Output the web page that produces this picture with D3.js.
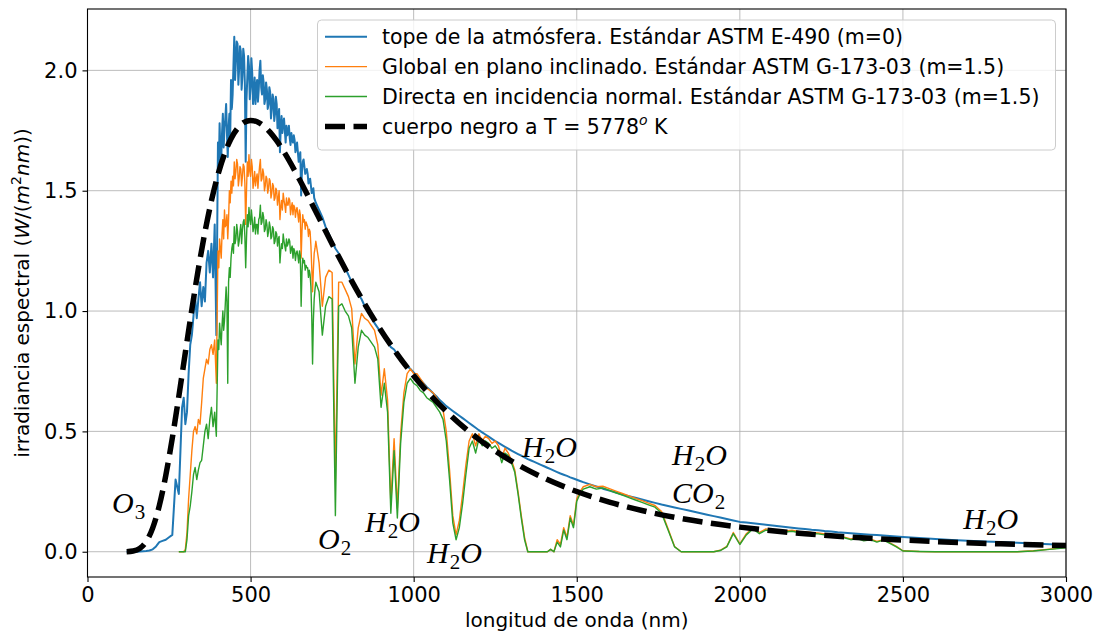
<!DOCTYPE html>
<html>
<head>
<meta charset="utf-8">
<script src="https://cdn.jsdelivr.net/npm/d3@7"></script>
<style>
  html, body { margin: 0; padding: 0; background: #ffffff; }
  svg { display: block; font-family: "DejaVu Sans", sans-serif; }
</style>
</head>
<body>
<svg id="chart" width="1098" height="633"></svg>
<script>
// Wavelength grid (nm) shared by the three measured spectra
const wavelength = [
  120,130,140,150,160,170,180,190,200,210,220,230,240,250,260,270,280,
  285,290,295,300,305,310,315,320,325,330,
  335,340,345,350,355,360,365,370,375,380,
  385,390,395,
  400,402.5,405,407.5,410,412.5,415,417.5,420,422.5,
  425,427.5,430,432.5,435,437.5,440,442.5,445,447.5,
  450,452.5,455,457.5,460,462.5,465,467.5,470,472.5,
  475,477.5,480,482.5,485,487.5,490,492.5,495,497.5,
  500,502.5,505,507.5,510,512.5,515,517.5,520,522.5,
  525,527.5,530,532.5,535,537.5,540,542.5,545,547.5,
  550,552.5,555,557.5,560,562.5,565,567.5,570,572.5,
  575,577.5,580,582.5,585,587.5,590,592.5,595,597.5,
  600,602.5,605,607.5,610,612.5,615,617.5,620,622.5,
  625,627.5,630,632.5,635,637.5,640,642.5,645,647.5,
  650,652.5,655,657.5,660,662.5,665,667.5,670,672.5,
  675,677.5,680,682.5,685,687.5,690,692.5,695,697.5,
  700,
  710,720,730,740,750,760,770,780,790,800,
  810,820,830,840,850,860,870,880,890,900,
  910,920,930,940,950,960,970,980,990,1000,
  1010,1020,1030,1040,1050,1060,1070,1080,1090,1100,
  1110,1120,1130,1140,1150,1160,1170,1180,1190,1200,
  1210,1220,1230,1240,1250,1260,1270,1280,1290,1300,
  1310,1320,1330,1340,1350,1360,1370,1380,1390,1400,
  1410,1420,1430,1440,1450,1460,1470,1480,1490,1500,
  1510,1520,
  1540,1560,1580,1600,1620,1640,1660,1680,1700,1720,
  1740,1760,1780,1800,1820,1840,1860,1880,1900,1920,
  1940,1960,1980,2000,2020,2040,2060,2080,2100,2120,
  2140,2160,2180,2200,2220,2240,2260,2280,2300,2320,
  2340,2360,2380,2400,2420,2440,2460,2480,2500,
  2550,2600,2650,2700,2750,2800,2850,2900,2950,3000
];

// Top of atmosphere, ASTM E-490 (W/(m^2 nm))
const toaE490 = [
  0,0,0,0,0.001,0.002,0.003,0.005,0.010,0.022,0.040,0.045,0.050,0.060,0.070,0.300,0.240,
  0.42,0.60,0.64,0.53,0.58,0.74,0.86,0.90,0.98,1.06,
  0.97,1.05,1.12,1.02,1.10,1.04,1.20,1.25,1.16,1.28,
  1.14,1.36,0.90,
  1.70,1.58,1.78,1.66,1.63,1.74,1.82,1.68,1.76,1.80,
  1.86,1.74,1.64,1.76,1.82,1.72,1.96,1.84,1.90,2.02,
  2.14,1.96,2.04,2.12,2.11,1.94,2.01,2.10,2.08,1.92,
  1.98,2.09,2.06,1.94,1.62,1.88,1.97,2.06,2.02,1.88,
  1.93,2.05,1.99,1.86,1.90,1.97,1.86,1.93,1.96,1.87,
  1.92,2.00,2.04,1.93,1.90,1.98,1.95,1.86,1.88,1.95,
  1.92,1.84,1.86,1.93,1.91,1.80,1.84,1.90,1.88,1.79,
  1.82,1.89,1.86,1.76,1.79,1.84,1.66,1.76,1.81,1.74,
  1.78,1.80,1.75,1.70,1.77,1.73,1.74,1.77,1.72,1.69,
  1.74,1.71,1.70,1.73,1.71,1.66,1.68,1.70,1.66,1.62,
  1.64,1.66,1.48,1.58,1.62,1.63,1.60,1.57,1.58,1.59,
  1.57,1.53,1.54,1.55,1.52,1.49,1.50,1.51,1.47,1.46,
  1.45,
  1.42,1.39,1.35,1.32,1.29,1.26,1.24,1.21,1.18,1.15,
  1.12,1.10,1.07,1.05,1.02,1.00,0.98,0.95,0.93,0.91,
  0.89,0.87,0.85,0.84,0.82,0.80,0.79,0.77,0.76,0.745,
  0.73,0.715,0.70,0.685,0.672,0.658,0.645,0.63,0.618,0.605,
  0.595,0.585,0.575,0.565,0.555,0.545,0.535,0.525,0.515,0.505,
  0.496,0.487,0.478,0.469,0.460,0.452,0.444,0.436,0.428,0.420,
  0.413,0.406,0.399,0.392,0.385,0.379,0.373,0.367,0.361,0.355,
  0.349,0.343,0.337,0.331,0.325,0.320,0.315,0.309,0.304,0.299,
  0.294,0.289,
  0.280,0.271,0.262,0.254,0.246,0.238,0.231,0.224,0.217,0.210,
  0.203,0.196,0.190,0.184,0.178,0.172,0.166,0.160,0.154,0.148,
  0.142,0.136,0.130,0.124,0.121,0.118,0.115,0.112,0.109,0.106,
  0.103,0.100,0.097,0.094,0.091,0.089,0.086,0.084,0.081,0.079,
  0.077,0.075,0.073,0.071,0.069,0.067,0.065,0.063,0.061,
  0.057,0.053,0.049,0.046,0.043,0.040,0.037,0.034,0.031,0.028
];

// Global on tilted plane, ASTM G-173-03 (m=1.5)
const globalTilt = [
  null,null,null,null,null,null,null,null,null,null,null,null,null,null,null,null,0,
  0,0,0,0.01,0.08,0.22,0.32,0.42,0.50,0.52,
  0.49,0.55,0.53,0.62,0.72,0.76,0.80,0.78,0.84,0.86,
  0.82,0.88,0.70,
  1.25,1.18,1.30,1.26,1.22,1.32,1.38,1.30,1.42,1.35,
  1.36,1.40,1.30,1.38,1.50,1.45,1.54,1.49,1.56,1.52,
  1.62,1.55,1.58,1.63,1.61,1.52,1.55,1.60,1.59,1.52,
  1.56,1.61,1.60,1.53,1.36,1.50,1.62,1.56,1.65,1.58,
  1.56,1.63,1.60,1.51,1.54,1.58,1.52,1.55,1.57,1.51,
  1.56,1.60,1.63,1.54,1.55,1.59,1.57,1.50,1.52,1.56,
  1.55,1.49,1.51,1.55,1.54,1.47,1.49,1.53,1.52,1.46,
  1.47,1.51,1.50,1.44,1.47,1.50,1.38,1.43,1.46,1.42,
  1.49,1.46,1.44,1.41,1.47,1.44,1.44,1.47,1.46,1.40,
  1.43,1.45,1.40,1.44,1.43,1.39,1.42,1.43,1.40,1.37,
  1.42,1.40,1.22,1.33,1.40,1.37,1.38,1.34,1.37,1.36,
  1.35,1.31,1.34,1.33,1.27,1.18,1.08,1.17,1.24,1.26,
  1.29,
  1.20,1.02,1.14,1.17,1.16,0.30,1.12,1.12,1.09,1.06,
  1.01,0.78,0.93,0.99,0.97,0.96,0.94,0.92,0.86,0.65,
  0.76,0.63,0.20,0.47,0.18,0.49,0.66,0.74,0.76,0.74,
  0.74,0.72,0.70,0.68,0.67,0.66,0.64,0.62,0.59,0.50,
  0.34,0.15,0.07,0.13,0.24,0.36,0.46,0.49,0.44,0.49,
  0.46,0.48,0.47,0.45,0.46,0.44,0.39,0.43,0.41,0.38,
  0.34,0.25,0.15,0.06,0,0,0,0,0,0,
  0,0.01,0,0.05,0.03,0.10,0.06,0.15,0.11,0.22,
  0.25,0.27,
  0.28,0.27,0.272,0.262,0.252,0.242,0.232,0.222,0.212,0.202,
  0.192,0.167,0.095,0.022,0,0,0,0,0,0,
  0.006,0.022,0.08,0.033,0.075,0.10,0.08,0.095,0.09,0.092,
  0.086,0.089,0.084,0.083,0.08,0.078,0.074,0.072,0.066,0.061,
  0.053,0.058,0.048,0.053,0.043,0.05,0.037,0.022,0.004,
  0.001,0,0,0,0,0,0,0.004,0.011,0.018
];

// Direct normal incidence, ASTM G-173-03 (m=1.5)
const directNormal = [
  null,null,null,null,null,null,null,null,null,null,null,null,null,null,null,null,0,
  0,0,0,0,0.05,0.15,0.19,0.25,0.32,0.35,
  0.30,0.34,0.37,0.38,0.44,0.50,0.53,0.47,0.55,0.60,
  0.52,0.58,0.48,
  0.88,0.84,0.95,0.90,0.86,0.94,1.00,0.92,0.96,1.03,
  1.10,1.04,0.70,1.12,1.18,1.14,1.22,1.26,1.28,1.24,
  1.35,1.28,1.30,1.36,1.33,1.27,1.29,1.33,1.36,1.28,
  1.34,1.37,1.38,1.31,1.18,1.30,1.40,1.35,1.43,1.38,
  1.36,1.42,1.38,1.33,1.35,1.39,1.32,1.36,1.36,1.32,
  1.38,1.39,1.44,1.36,1.37,1.41,1.39,1.33,1.34,1.38,
  1.36,1.31,1.33,1.37,1.35,1.30,1.31,1.35,1.34,1.28,
  1.29,1.33,1.32,1.27,1.30,1.31,1.20,1.25,1.28,1.26,
  1.32,1.29,1.27,1.25,1.30,1.27,1.28,1.30,1.29,1.24,
  1.26,1.27,1.22,1.26,1.25,1.21,1.24,1.25,1.23,1.20,
  1.25,1.23,1.02,1.16,1.22,1.20,1.21,1.17,1.19,1.18,
  1.18,1.14,1.17,1.15,1.10,0.98,0.78,0.96,1.05,1.09,
  1.12,
  1.08,0.90,1.02,1.06,1.05,0.15,1.02,1.03,1.00,0.98,
  0.93,0.70,0.85,0.92,0.90,0.89,0.87,0.85,0.80,0.60,
  0.70,0.58,0.16,0.42,0.14,0.45,0.62,0.70,0.72,0.70,
  0.69,0.67,0.66,0.64,0.63,0.62,0.60,0.58,0.55,0.46,
  0.30,0.12,0.05,0.10,0.20,0.32,0.43,0.46,0.41,0.47,
  0.44,0.46,0.45,0.43,0.44,0.42,0.37,0.41,0.40,0.37,
  0.33,0.24,0.14,0.05,0,0,0,0,0,0,
  0,0.01,0,0.04,0.02,0.09,0.05,0.14,0.10,0.21,
  0.24,0.26,
  0.27,0.26,0.265,0.255,0.245,0.235,0.225,0.215,0.205,0.195,
  0.185,0.16,0.09,0.02,0,0,0,0,0,0,
  0.005,0.02,0.075,0.03,0.07,0.095,0.075,0.09,0.085,0.088,
  0.082,0.085,0.080,0.079,0.076,0.074,0.070,0.068,0.062,0.058,
  0.050,0.055,0.045,0.050,0.040,0.048,0.035,0.020,0.003,
  0.001,0,0,0,0,0,0,0.003,0.010,0.016
];

// Black body at T = 5778 K, scaled to the Earth's orbit
const bbWavelength = [
  120,140,160,180,200,220,240,260,280,300,320,340,360,380,400,420,440,460,480,500,
  520,540,560,580,600,650,700,750,800,850,900,950,1000,1100,1200,1300,1400,1500,
  1600,1700,1800,1900,2000,2200,2400,2600,2800,3000
];
const bbIrradiance = [
  0.0003,0.0028,0.0135,0.0421,0.0990,0.1907,0.3170,0.4720,0.6458,0.8277,1.0071,1.1758,
  1.3276,1.4585,1.5669,1.6526,1.7162,1.7591,1.7838,1.7922,1.7866,1.7694,1.7424,1.7077,
  1.6666,1.5464,1.4135,1.2790,1.1499,1.0294,0.9194,0.8202,0.7315,0.5831,0.4669,0.3764,
  0.3058,0.2502,0.2063,0.1713,0.1433,0.1207,0.1023,0.0747,0.0558,0.0424,0.0328,0.0258
];

const xTicks = [0, 500, 1000, 1500, 2000, 2500, 3000];
const yTicks = [0, 0.5, 1.0, 1.5, 2.0];

const seriesNames = [
  "tope de la atmósfera. Estándar ASTM E-490 (m=0)",
  "Global en plano inclinado. Estándar ASTM G-173-03 (m=1.5)",
  "Directa en incidencia normal. Estándar ASTM G-173-03 (m=1.5)",
  "cuerpo negro a T = 5778"
];
const seriesColors = ["#1f77b4", "#ff7f0e", "#2ca02c", "#000000"];

// Absorption band labels: wavelength (nm), irradiance of the first baseline, lines of parts
const bandLabels = [
  { x: 75,   y: 0.161,  lines: [[["O", "i"], ["3", "sub"]]] },
  { x: 707,  y: 0.013,  lines: [[["O", "i"], ["2", "sub"]]] },
  { x: 851,  y: 0.082,  lines: [[["H", "i"], ["2", "sub"], ["O", "i"]]] },
  { x: 1041, y: -0.047, lines: [[["H", "i"], ["2", "sub"], ["O", "i"]]] },
  { x: 1332, y: 0.393,  lines: [[["H", "i"], ["2", "sub"], ["O", "i"]]] },
  { x: 1792, y: 0.362,  lines: [[["H", "i"], ["2", "sub"], ["O", "i"]],
                                [["C", "i"], ["O", "i"], ["2", "sub"]]] },
  { x: 2685, y: 0.094,  lines: [[["H", "i"], ["2", "sub"], ["O", "i"]]] }
];

const svg = d3.select("#chart");
const area = { left: 87.5, right: 1066, top: 9, bottom: 577 };

const x = d3.scaleLinear().domain([0, 3000]).range([area.left, area.right]);
const y = d3.scaleLinear().domain([-0.105, 2.255]).range([area.bottom, area.top]);

svg.append("rect").attr("width", 1098).attr("height", 633).attr("fill", "#ffffff");

// grid
const grid = svg.append("g").attr("stroke", "#b0b0b0").attr("stroke-width", 1).attr("stroke-opacity", 0.85);
grid.selectAll("line.gx").data(xTicks).join("line").attr("class", "gx")
  .attr("x1", d => x(d)).attr("x2", d => x(d)).attr("y1", area.top).attr("y2", area.bottom);
grid.selectAll("line.gy").data(yTicks).join("line").attr("class", "gy")
  .attr("y1", d => y(d)).attr("y2", d => y(d)).attr("x1", area.left).attr("x2", area.right);

// clip for data lines
svg.append("defs").append("clipPath").attr("id", "plotClip")
  .append("rect").attr("x", area.left).attr("y", area.top)
  .attr("width", area.right - area.left).attr("height", area.bottom - area.top);

const lineGen = d3.line()
  .defined(d => d[1] != null && !isNaN(d[1]))
  .x(d => x(d[0])).y(d => y(d[1]));

const lines = svg.append("g").attr("clip-path", "url(#plotClip)");
const spectra = [
  { values: toaE490, color: seriesColors[0], width: 2 },
  { values: globalTilt, color: seriesColors[1], width: 1.4 },
  { values: directNormal, color: seriesColors[2], width: 1.4 }
];
spectra.forEach(s => {
  const pts = wavelength.map((w, i) => [w, s.values[i]]);
  lines.append("path").datum(pts)
    .attr("fill", "none").attr("stroke", s.color).attr("stroke-width", s.width)
    .attr("stroke-linejoin", "round").attr("d", lineGen);
});

const bbLine = d3.line().curve(d3.curveMonotoneX).x(d => x(d[0])).y(d => y(d[1]));
lines.append("path").datum(bbWavelength.map((w, i) => [w, bbIrradiance[i]]))
  .attr("fill", "none").attr("stroke", "#000").attr("stroke-width", 5.5)
  .attr("stroke-dasharray", "20,8.5").attr("d", bbLine);

// band labels (one text element per label, one row per chemical species)
const bandG = svg.append("g")
  .attr("font-family", "'Liberation Serif', 'DejaVu Serif', serif").attr("font-size", 30).attr("fill", "#000");
const rowGap = 38;
bandLabels.forEach(b => {
  const x0 = x(b.x), y0 = y(b.y);
  const t = bandG.append("text").attr("x", x0).attr("y", y0);
  b.lines.forEach((parts, li) => {
    const base = y0 + li * rowGap;
    parts.forEach(([txt, kind], pi) => {
      const sp = t.append("tspan").text(txt);
      if (pi === 0) sp.attr("x", x0);
      if (kind === "sub") {
        sp.attr("font-size", 21).attr("y", base + 6).attr("dx", 1);
      } else {
        sp.attr("font-style", "italic").attr("y", base);
      }
    });
  });
});

// axes
const xAxis = d3.axisBottom(x).tickValues(xTicks).tickSize(5).tickPadding(5).tickFormat(d3.format("d"));
const yAxis = d3.axisLeft(y).tickValues(yTicks).tickSize(5).tickPadding(5).tickFormat(d3.format(".1f"));
const gx = svg.append("g").attr("transform", `translate(0,${area.bottom})`).call(xAxis);
const gy = svg.append("g").attr("transform", `translate(${area.left},0)`).call(yAxis);
[gx, gy].forEach(g => {
  g.select(".domain").remove();
  g.selectAll(".tick line").attr("stroke", "#000").attr("stroke-width", 1.1);
  g.selectAll(".tick text").attr("fill", "#000").attr("font-size", 21)
    .attr("font-family", "'DejaVu Sans', sans-serif");
});

// spines
svg.append("rect").attr("x", area.left).attr("y", area.top)
  .attr("width", area.right - area.left).attr("height", area.bottom - area.top)
  .attr("fill", "none").attr("stroke", "#000").attr("stroke-width", 1.1);

// axis labels
svg.append("text").attr("x", (area.left + area.right) / 2).attr("y", 627)
  .attr("text-anchor", "middle").attr("font-size", 20).text("longitud de onda (nm)");

const yl = svg.append("text").attr("transform", "translate(29,293) rotate(-90)")
  .attr("text-anchor", "middle").attr("font-size", 20);
yl.append("tspan").text("irradiancia espectral (");
yl.append("tspan").attr("font-style", "oblique").text("W");
yl.append("tspan").text("/(");
yl.append("tspan").attr("font-style", "oblique").text("m");
yl.append("tspan").attr("font-size", 14).attr("dy", -8).text("2");
yl.append("tspan").attr("font-style", "oblique").attr("dy", 8).text("nm");
yl.append("tspan").text("))");

// legend
const lg = svg.append("g");
lg.append("rect").attr("x", 317.5).attr("y", 20).attr("width", 738).attr("height", 130)
  .attr("rx", 4).attr("fill", "#ffffff").attr("fill-opacity", 0.8)
  .attr("stroke", "#cccccc").attr("stroke-width", 1);
const legendWidths = [2, 1.4, 1.4, 5.5];
seriesNames.forEach((name, i) => {
  const ry = 36.7 + i * 29.9;
  lg.append("line").attr("x1", 325).attr("x2", 367).attr("y1", ry).attr("y2", ry)
    .attr("stroke", seriesColors[i]).attr("stroke-width", legendWidths[i])
    .attr("stroke-dasharray", i === 3 ? "20,8.5" : null);
  const t = lg.append("text").attr("x", 382).attr("y", ry + 7.3).attr("font-size", 20.5).attr("fill", "#000");
  t.append("tspan").text(name);
  if (i === 3) {
    t.append("tspan").attr("font-style", "oblique").attr("font-size", 14).attr("dy", -9).text("o");
    t.append("tspan").attr("dy", 9).text(" K");
  }
});
</script>
</body>
</html>
